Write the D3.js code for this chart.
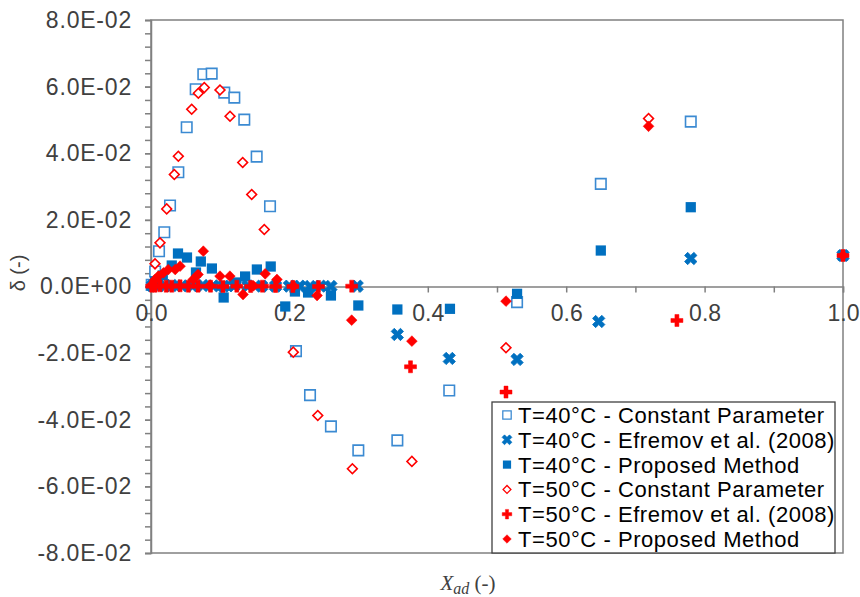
<!DOCTYPE html>
<html>
<head>
<meta charset="utf-8">
<script src="https://cdn.jsdelivr.net/npm/d3@7"></script>
<style>
  body { margin: 0; background: #fff; }
  svg { font-family: "Liberation Sans", Arial, sans-serif; }
</style>
</head>
<body>
<div id="chart"></div>
<script>
//
// Data
//
// T=40°C - Constant Parameter
var cp40X = [0.001, 0.006, 0.0116, 0.0192, 0.0275, 0.0395, 0.0516, 0.0646, 0.0756, 0.0877, 0.1059, 0.1204, 0.1348, 0.1527, 0.172, 0.2095, 0.2298, 0.260, 0.2996, 0.356, 0.431, 0.529, 0.650, 0.780];
var cp40Y = [0.0005, 0.0045, 0.0106, 0.0163, 0.0243, 0.0343, 0.0478, 0.0592, 0.0637, 0.0639, 0.0582, 0.0567, 0.0501, 0.0390, 0.0241, -0.0194, -0.0326, -0.0420, -0.0492, -0.0462, -0.0312, -0.0047, 0.0308, 0.0495];

// T=40°C - Efremov et al. (2008)
var ef40X = [0.002, 0.01, 0.02, 0.03, 0.045, 0.06, 0.075, 0.09, 0.105, 0.12, 0.14, 0.16, 0.18, 0.2, 0.215, 0.23, 0.245, 0.26, 0.298, 0.356, 0.431, 0.529, 0.647, 0.780, 1.0];
var ef40Y = [0.0002, 0.0003, 0.0002, 0.0003, 0.0002, 0.0002, 0.0003, 0.0002, 0.0001, 0.0002, 0.0002, 0.0001, 0.0001, 0.0001, 0.0001, 0.0000, 0.0001, 0.0000, 0.0001, -0.0144, -0.0216, -0.0219, -0.0105, 0.0084, 0.0093];

// T=40°C - Proposed Method
var pm40X = [0.006, 0.017, 0.030, 0.039, 0.052, 0.065, 0.072, 0.088, 0.105, 0.123, 0.136, 0.153, 0.173, 0.194, 0.208, 0.227, 0.260, 0.2996, 0.356, 0.432, 0.529, 0.650, 0.780, 1.0];
var pm40Y = [0.0015, 0.0033, 0.0063, 0.0099, 0.0087, 0.0042, 0.0075, 0.0054, -0.0033, 0.0012, 0.0030, 0.0051, 0.0060, -0.0060, -0.0015, -0.0018, -0.0027, -0.0057, -0.0069, -0.0067, -0.0022, 0.0108, 0.0238, 0.0093];

// T=50°C - Constant Parameter
var cp50X = [0.002, 0.0058, 0.013, 0.0227, 0.0337, 0.0395, 0.0588, 0.0684, 0.077, 0.0997, 0.1142, 0.1325, 0.1455, 0.1637, 0.2056, 0.241, 0.291, 0.377, 0.513, 0.719];
var cp50Y = [0.0006, 0.0068, 0.0131, 0.0233, 0.0336, 0.0391, 0.0532, 0.0580, 0.0597, 0.0590, 0.0511, 0.0372, 0.0276, 0.0171, -0.0197, -0.0387, -0.0547, -0.0525, -0.0184, 0.0504];

// T=50°C - Efremov et al. (2008)
var ef50X = [0.001, 0.006, 0.013, 0.022, 0.03, 0.042, 0.054, 0.068, 0.086, 0.104, 0.124, 0.144, 0.161, 0.18, 0.205, 0.242, 0.29, 0.375, 0.513, 0.760, 1.0];
var ef50Y = [0.0001, 0.0001, 0.0002, 0.0001, 0.0001, 0.0002, 0.0001, 0.0001, 0.0001, 0.0000, 0.0001, 0.0000, 0.0001, 0.0000, 0.0000, 0.0000, 0.0001, -0.0241, -0.0317, -0.0102, 0.0093];

// T=50°C - Proposed Method
var pm50X = [0.002, 0.006, 0.0105, 0.018, 0.025, 0.035, 0.042, 0.061, 0.068, 0.0756, 0.085, 0.0997, 0.114, 0.133, 0.148, 0.165, 0.182, 0.206, 0.240, 0.290, 0.377, 0.513, 0.719, 1.0];
var pm50Y = [0.0002, 0.0021, 0.0031, 0.0041, 0.0051, 0.0051, 0.0061, 0.0021, 0.0036, 0.0106, 0.0003, 0.0031, 0.0031, -0.0024, 0.0002, 0.0038, 0.0021, 0.0001, -0.0027, -0.0101, -0.0164, -0.0044, 0.0481, 0.0093];

var seriesNames = [
    "T=40°C - Constant Parameter",
    "T=40°C - Efremov et al. (2008)",
    "T=40°C - Proposed Method",
    "T=50°C - Constant Parameter",
    "T=50°C - Efremov et al. (2008)",
    "T=50°C - Proposed Method"];

var xTicks = [0, 0.1, 0.2, 0.3, 0.4, 0.5, 0.6, 0.7, 0.8, 0.9, 1.0];
var yTicks = [-0.08, -0.06, -0.04, -0.02, 0, 0.02, 0.04, 0.06, 0.08];

//
// Global Vars
//
var W = 860, H = 597,
    plot = {left: 151, right: 843, top: 20, bottom: 553},
    blue = "#0070C0",
    lightBlue = "#3b8ad2",
    red = "#FF0000",
    axisCol = "#808080",
    textCol = "#404040";

var x = d3.scaleLinear().domain([0, 1]).range([plot.left, plot.right]);
var y = d3.scaleLinear().domain([-0.08, 0.08]).range([plot.bottom, plot.top]);

var svg = d3.select("#chart").append("svg")
    .attr("width", W)
    .attr("height", H);

// number format like 8.0E-02
function fmtE(v) {
    if (Math.abs(v) < 1e-12) return "0.0E+00";
    var p = v.toExponential(1).split("e");
    var n = +p[1];
    return p[0] + "E" + (n < 0 ? "-" : "+") + String(Math.abs(n)).padStart(2, "0");
}

// plot frame
svg.append("rect")
    .attr("x", plot.left)
    .attr("y", plot.top)
    .attr("width", plot.right - plot.left)
    .attr("height", plot.bottom - plot.top)
    .attr("fill", "none")
    .attr("stroke", axisCol)
    .attr("stroke-width", 1.5);

// y axis minor ticks
svg.append("g")
    .attr("transform", "translate(" + plot.left + ",0)")
    .call(d3.axisLeft(y).tickValues(d3.range(-20, 21).map(function(i) { return i * 0.004; }))
        .tickSize(6).tickFormat(""))
    .call(function(g) { g.select(".domain").remove(); })
    .selectAll("line").attr("stroke", axisCol).attr("stroke-width", 1.5);

// y axis major
var yAxis = svg.append("g")
    .attr("transform", "translate(" + plot.left + ",0)")
    .call(d3.axisLeft(y).tickValues(yTicks).tickSize(6).tickPadding(13).tickFormat(fmtE));
yAxis.select(".domain").attr("stroke", axisCol).attr("stroke-width", 1.5);
yAxis.selectAll("line").attr("stroke", axisCol).attr("stroke-width", 1.5);
yAxis.selectAll("text")
    .attr("fill", textCol)
    .style("font-size", "23px")
    .style("letter-spacing", "0.8px")
    .style("font-family", "'Liberation Sans', Arial, sans-serif");

// x axis along zero
var xAxis = svg.append("g")
    .attr("transform", "translate(0," + y(0) + ")")
    .call(d3.axisBottom(x).tickValues(xTicks).tickSize(6).tickPadding(12)
        .tickFormat(function(d) { return Math.round(d * 10) % 2 == 0 ? d.toFixed(1) : ""; }));
xAxis.select(".domain").attr("stroke", axisCol).attr("stroke-width", 1.5);
xAxis.selectAll("line").attr("stroke", axisCol).attr("stroke-width", 1.5);
xAxis.selectAll("text")
    .attr("fill", textCol)
    .style("font-size", "23px")
    .style("font-family", "'Liberation Sans', Arial, sans-serif");

// axis titles
svg.append("text")
    .attr("transform", "translate(25,273) rotate(-90)")
    .attr("text-anchor", "middle")
    .attr("fill", textCol)
    .style("font-size", "20px")
    .text("δ (-)");

var xt = svg.append("text")
    .attr("x", 468)
    .attr("y", 590)
    .attr("text-anchor", "middle")
    .attr("fill", textCol)
    .style("font-size", "21px");
xt.append("tspan")
    .style("font-family", "'Liberation Serif', 'DejaVu Serif', serif")
    .style("font-style", "italic")
    .text("X");
xt.append("tspan")
    .style("font-family", "'Liberation Serif', 'DejaVu Serif', serif")
    .style("font-style", "italic")
    .style("font-size", "16px")
    .attr("dy", 4)
    .text("ad");
xt.append("tspan")
    .attr("dy", -4)
    .style("font-family", "'Liberation Serif', 'DejaVu Serif', serif")
    .text(" (-)");

// Marker styling //
var markers = [
    {xs: cp40X, ys: cp40Y, type: d3.symbolSquare, size: 110, rot: 0, fill: "#fff", stroke: lightBlue, sw: 1.6},
    {xs: ef40X, ys: ef40Y, type: d3.symbolCross, size: 95, rot: 45, fill: blue, stroke: blue, sw: 0.8},
    {xs: pm40X, ys: pm40Y, type: d3.symbolSquare, size: 105, rot: 0, fill: blue, stroke: blue, sw: 0},
    {xs: cp50X, ys: cp50Y, type: d3.symbolSquare, size: 48, rot: 45, fill: "#fff", stroke: red, sw: 1.6},
    {xs: ef50X, ys: ef50Y, type: d3.symbolCross, size: 80, rot: 0, fill: red, stroke: red, sw: 0.5},
    {xs: pm50X, ys: pm50Y, type: d3.symbolSquare, size: 58, rot: 45, fill: red, stroke: red, sw: 0.5}
];

function drawMarker(sel, m) {
    sel.attr("d", d3.symbol().type(m.type).size(m.size)())
        .attr("fill", m.fill)
        .attr("stroke", m.stroke)
        .attr("stroke-width", m.sw);
}

markers.forEach(function(m, i) {
    var pts = m.xs.map(function(v, j) { return {x: v, y: m.ys[j]}; });
    svg.append("g")
        .attr("class", "series s" + i)
        .selectAll("path")
        .data(pts)
        .enter().append("path")
        .call(drawMarker, m)
        .attr("transform", function(d) {
            return "translate(" + x(d.x) + "," + y(d.y) + ") rotate(" + m.rot + ")";
        });
});

// Legend
var lg = svg.append("g").attr("class", "legend");
lg.append("rect")
    .attr("x", 492)
    .attr("y", 402)
    .attr("width", 343)
    .attr("height", 151)
    .attr("fill", "#fff")
    .attr("stroke", "#404040")
    .attr("stroke-width", 1.3);

var row = lg.selectAll("g.row")
    .data(seriesNames)
    .enter().append("g")
    .attr("class", "row")
    .attr("transform", function(d, i) { return "translate(0," + (415 + i * 24.8) + ")"; });

row.append("path")
    .each(function(d, i) {
        var m = markers[i];
        d3.select(this).call(drawMarker, m)
            .attr("transform", "translate(507,0) rotate(" + m.rot + ") scale(0.8)");
    });

row.append("text")
    .attr("x", 518)
    .attr("dy", "0.36em")
    .attr("fill", "#000")
    .style("font-size", "22px")
    .style("letter-spacing", "0.55px")
    .text(function(d) { return d; });
</script>
</body>
</html>
